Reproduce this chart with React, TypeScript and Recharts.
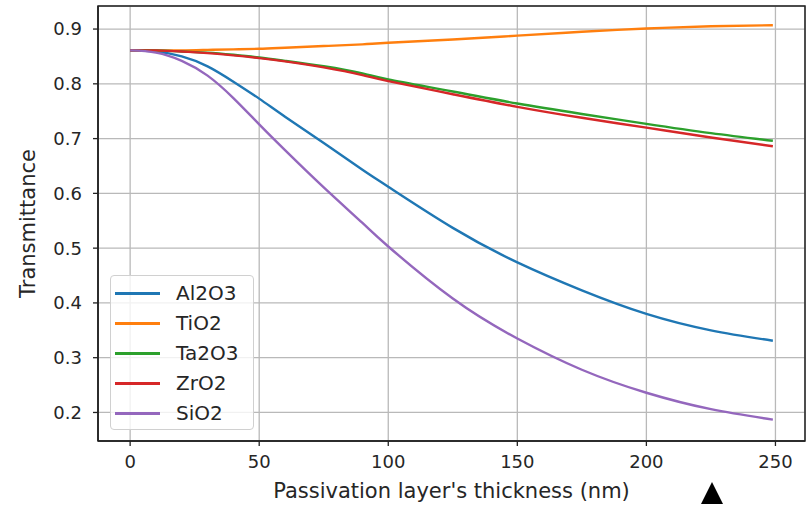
import React from "react";
import {
  LineChart,
  Line,
  XAxis,
  YAxis,
  CartesianGrid,
  Legend,
  ReferenceArea,
} from "recharts";

// passivation layer thickness (nm)
const thickness = [0, 10, 20, 30, 40, 50, 60, 75, 90, 100, 125, 150, 175, 200, 225, 249];

const al2o3 = [0.861, 0.859, 0.850, 0.832, 0.804, 0.773, 0.740, 0.692, 0.643, 0.612, 0.537, 0.474, 0.423, 0.380, 0.350, 0.331];
const tio2 = [0.861, 0.861, 0.861, 0.862, 0.863, 0.864, 0.866, 0.869, 0.872, 0.875, 0.881, 0.888, 0.895, 0.901, 0.905, 0.907];
const ta2o3 = [0.861, 0.861, 0.859, 0.857, 0.853, 0.848, 0.842, 0.832, 0.819, 0.808, 0.786, 0.764, 0.745, 0.727, 0.710, 0.696];
const zro2 = [0.861, 0.861, 0.859, 0.856, 0.852, 0.847, 0.841, 0.830, 0.816, 0.805, 0.781, 0.758, 0.738, 0.720, 0.702, 0.686];
const sio2 = [0.861, 0.857, 0.842, 0.815, 0.774, 0.726, 0.679, 0.611, 0.546, 0.503, 0.408, 0.335, 0.278, 0.236, 0.206, 0.187];

const xTicks = [0, 50, 100, 150, 200, 250];
const yTicks = [0.2, 0.3, 0.4, 0.5, 0.6, 0.7, 0.8, 0.9];

const X_DOMAIN: [number, number] = [-12.45, 261.45];
const Y_DOMAIN: [number, number] = [0.1479, 0.9421];

const series = [
  { key: "Al2O3", values: al2o3, color: "#1f77b4" },
  { key: "TiO2", values: tio2, color: "#ff7f0e" },
  { key: "Ta2O3", values: ta2o3, color: "#2ca02c" },
  { key: "ZrO2", values: zro2, color: "#d62728" },
  { key: "SiO2", values: sio2, color: "#9467bd" },
];

const data = thickness.map((t, i) => {
  const row: Record<string, number> = { t };
  series.forEach((s) => {
    row[s.key] = s.values[i];
  });
  return row;
});

const FONT = "'DejaVu Sans', sans-serif";
const tickStyle = { fontSize: 18, fill: "#262626", fontFamily: FONT };
const labelStyle = { fontSize: 21, fill: "#262626", fontFamily: FONT };

// keep the legend in plotting order
function LegendBox() {
  return (
    <div
      style={{
        width: 144,
        height: 155,
        border: "1px solid #d0d0d0",
        borderRadius: 4,
        background: "rgba(255,255,255,0.8)",
        boxSizing: "border-box",
        paddingTop: 2,
        fontFamily: FONT,
        fontSize: 20,
        color: "#262626",
      }}
    >
      {series.map((s) => (
        <div key={s.key} style={{ display: "flex", alignItems: "center", height: 30 }}>
          <div
            style={{
              width: 45,
              height: 3,
              background: s.color,
              marginLeft: 4,
              marginRight: 16,
            }}
          />
          <span>{s.key}</span>
        </div>
      ))}
    </div>
  );
}

function YLabel(props: any) {
  const vb = props.viewBox || { y: 6, height: 435 };
  const cy = vb.y + vb.height / 2;
  return (
    <text
      x={28}
      y={cy}
      transform={`rotate(-90 28 ${cy})`}
      textAnchor="middle"
      dominantBaseline="central"
      style={labelStyle}
    >
      Transmittance
    </text>
  );
}

export default function App() {
  return (
    <div style={{ position: "absolute", left: 0, top: 0, width: 806, height: 505, background: "#fff" }}>
      <LineChart
        width={806}
        height={505}
        data={data}
        margin={{ top: 6, right: 1, left: 0, bottom: 0 }}
      >
        <CartesianGrid stroke="#b9b9b9" strokeWidth={1.3} />
        <XAxis
          dataKey="t"
          type="number"
          domain={X_DOMAIN}
          ticks={xTicks}
          allowDataOverflow
          height={64}
          tick={tickStyle}
          tickSize={5}
          tickMargin={9}
          tickLine={{ stroke: "#222", strokeWidth: 1.3 }}
          axisLine={{ stroke: "#222", strokeWidth: 1.5 }}
          label={{
            value: "Passivation layer's thickness (nm)",
            position: "insideBottom",
            offset: 7,
            style: labelStyle,
          }}
        />
        <YAxis
          type="number"
          domain={Y_DOMAIN}
          ticks={yTicks}
          allowDataOverflow
          width={98}
          tick={tickStyle}
          tickSize={5}
          tickMargin={11}
          tickFormatter={(v: number) => v.toFixed(1)}
          tickLine={{ stroke: "#222", strokeWidth: 1.3 }}
          axisLine={{ stroke: "#222", strokeWidth: 1.5 }}
          label={<YLabel />}
        />
        {series.map((s) => (
          <Line
            key={s.key}
            dataKey={s.key}
            name={s.key}
            type="natural"
            stroke={s.color}
            strokeWidth={2.4}
            dot={false}
            isAnimationActive={false}
          />
        ))}
        <ReferenceArea
          x1={X_DOMAIN[0]}
          x2={X_DOMAIN[1]}
          y1={Y_DOMAIN[0]}
          y2={Y_DOMAIN[1]}
          fill="none"
          fillOpacity={0}
          stroke="#222"
          strokeWidth={1.5}
          ifOverflow="visible"
        />
        <Legend
          layout="vertical"
          align="center"
          verticalAlign="middle"
          content={<LegendBox />}
          wrapperStyle={{ left: 110, top: 275, width: 144, height: 155 }}
        />
      </LineChart>
      <svg width={30} height={26} style={{ position: "absolute", left: 698, top: 480 }}>
        <polygon points="14,2 3,24 25,24" fill="#000" />
      </svg>
    </div>
  );
}
